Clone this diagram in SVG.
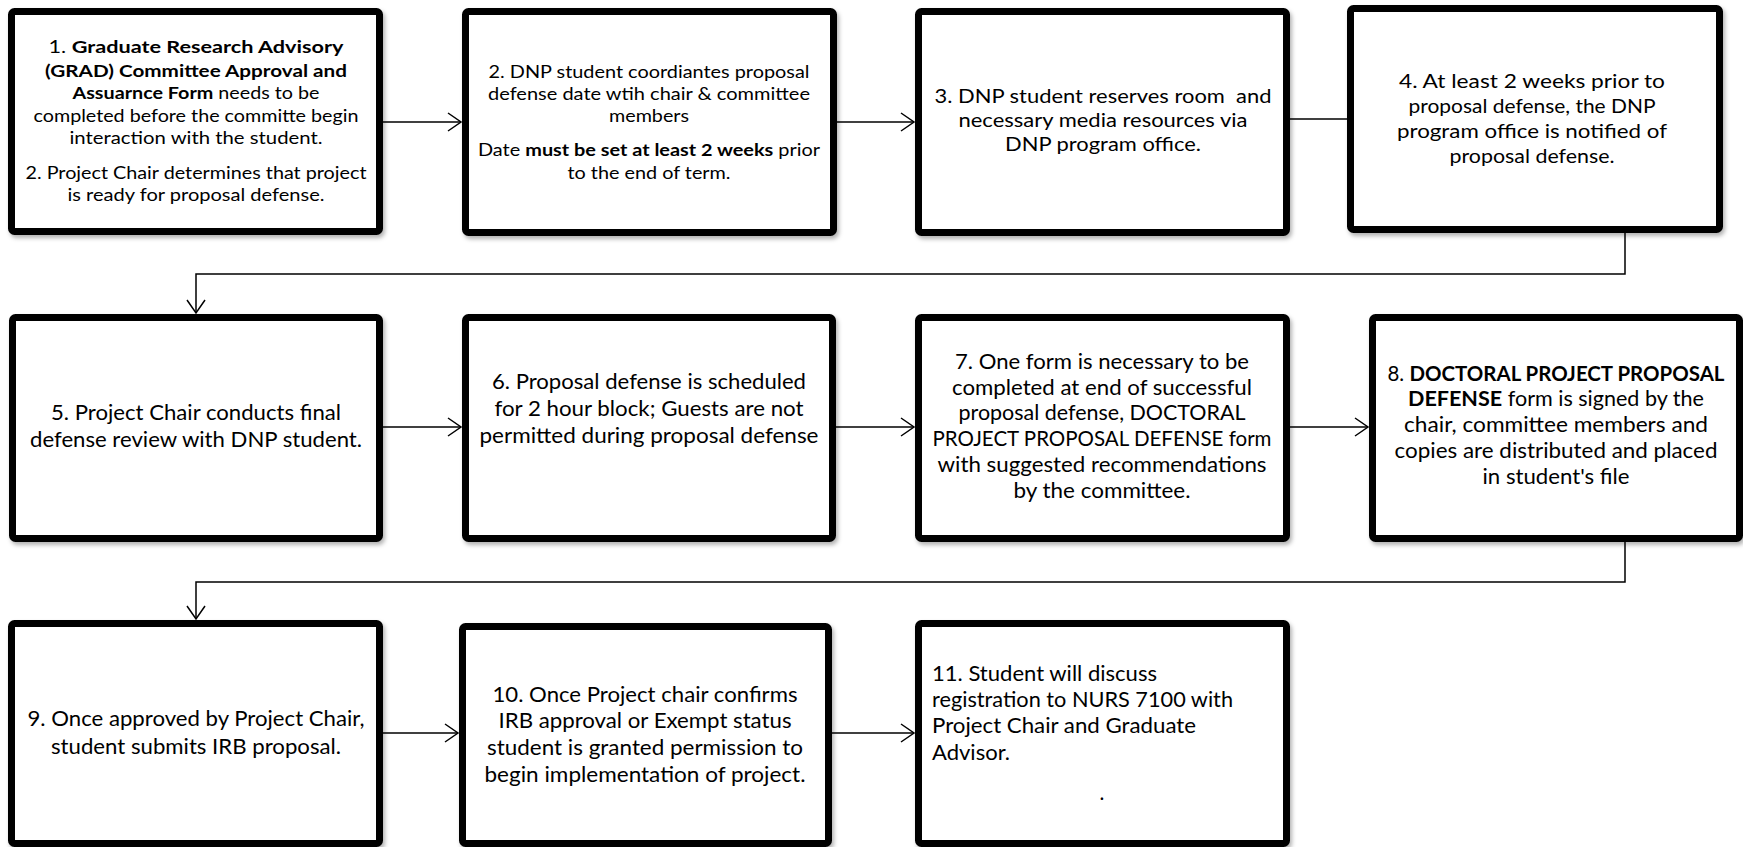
<svg xmlns="http://www.w3.org/2000/svg" width="1743" height="847" viewBox="0 0 1743 847">
<style>
.box{fill:#fff;stroke:#000;stroke-width:7;filter:url(#sh)}
.t{font-family:Lato,"Open Sans",sans-serif;fill:#000;text-anchor:middle}
.s1{font-size:17.5px}
.s2{font-size:19.5px}
.s3{font-size:20.5px}
.l{text-anchor:start}
.b{font-weight:bold}
.c{fill:none;stroke:#000;stroke-width:1.5}
</style>
<defs>
<filter id="sh" x="-5%" y="-5%" width="110%" height="115%">
<feDropShadow dx="2" dy="3" stdDeviation="2" flood-color="#000" flood-opacity="0.3"/>
</filter>
<marker id="ah" markerUnits="userSpaceOnUse" markerWidth="16" markerHeight="22" refX="14" refY="10" orient="auto">
<path d="M1,1 L14,10 L1,19" fill="none" stroke="#000" stroke-width="1.5"/>
</marker>
</defs>
<g id="connectors">
<path class="c" d="M383,122 H461" marker-end="url(#ah)"/>
<path class="c" d="M837,122 H914" marker-end="url(#ah)"/>
<path class="c" d="M1290,119 H1347"/>
<path class="c" d="M1625,233 V274 H196 V313" marker-end="url(#ah)"/>
<path class="c" d="M383,427 H461" marker-end="url(#ah)"/>
<path class="c" d="M836,427 H914" marker-end="url(#ah)"/>
<path class="c" d="M1290,427 H1368" marker-end="url(#ah)"/>
<path class="c" d="M1625,542 V582 H196 V619" marker-end="url(#ah)"/>
<path class="c" d="M383,733 H458" marker-end="url(#ah)"/>
<path class="c" d="M832,733 H914" marker-end="url(#ah)"/>
</g>
<g id="n1">
<rect class="box" x="11.5" y="11.5" width="368" height="220" rx="3"/>
<text class="t s1" x="196" y="53" textLength="295" lengthAdjust="spacingAndGlyphs">1. <tspan class="b">Graduate Research Advisory</tspan></text>
<text class="t s1 b" x="196" y="77" textLength="302" lengthAdjust="spacingAndGlyphs">(GRAD) Committee Approval and</text>
<text class="t s1" x="196" y="99" textLength="247" lengthAdjust="spacingAndGlyphs"><tspan class="b">Assuarnce Form</tspan> needs to be</text>
<text class="t s1" x="196" y="122" textLength="325" lengthAdjust="spacingAndGlyphs">completed before the committe begin</text>
<text class="t s1" x="196" y="144" textLength="253" lengthAdjust="spacingAndGlyphs">interaction with the student.</text>
<text class="t s1" x="196" y="179" textLength="341" lengthAdjust="spacingAndGlyphs">2. Project Chair determines that project</text>
<text class="t s1" x="196" y="201" textLength="257" lengthAdjust="spacingAndGlyphs">is ready for proposal defense.</text>
</g>
<g id="n2">
<rect class="box" x="465.5" y="11.5" width="368" height="221" rx="3"/>
<text class="t s1" x="649" y="78" textLength="321" lengthAdjust="spacingAndGlyphs">2. DNP student coordiantes proposal</text>
<text class="t s1" x="649" y="100" textLength="322" lengthAdjust="spacingAndGlyphs">defense date wtih chair &amp; committee</text>
<text class="t s1" x="649" y="122" textLength="80" lengthAdjust="spacingAndGlyphs">members</text>
<text class="t s1" x="649" y="156" textLength="342" lengthAdjust="spacingAndGlyphs">Date <tspan class="b">must be set at least 2 weeks</tspan> prior</text>
<text class="t s1" x="649" y="179" textLength="163" lengthAdjust="spacingAndGlyphs">to the end of term.</text>
</g>
<g id="n3">
<rect class="box" x="918.5" y="11.5" width="368" height="221" rx="3"/>
<text class="t s2" x="1103" y="103" textLength="337" lengthAdjust="spacingAndGlyphs" xml:space="preserve">3. DNP student reserves room  and</text>
<text class="t s2" x="1103" y="127" textLength="289" lengthAdjust="spacingAndGlyphs">necessary media resources via</text>
<text class="t s2" x="1103" y="151" textLength="196" lengthAdjust="spacingAndGlyphs">DNP program office.</text>
</g>
<g id="n4">
<rect class="box" x="1350.5" y="8.5" width="369" height="221" rx="3"/>
<text class="t s2" x="1532" y="88" textLength="266" lengthAdjust="spacingAndGlyphs">4. At least 2 weeks prior to</text>
<text class="t s2" x="1532" y="113" textLength="247" lengthAdjust="spacingAndGlyphs">proposal defense, the DNP</text>
<text class="t s2" x="1532" y="138" textLength="270" lengthAdjust="spacingAndGlyphs">program office is notified of</text>
<text class="t s2" x="1532" y="163" textLength="165" lengthAdjust="spacingAndGlyphs">proposal defense.</text>
</g>
<g id="n5">
<rect class="box" x="12.5" y="317.5" width="367" height="221" rx="3"/>
<text class="t s3" x="196" y="420" textLength="290" lengthAdjust="spacingAndGlyphs">5. Project Chair conducts final</text>
<text class="t s3" x="196" y="447" textLength="332" lengthAdjust="spacingAndGlyphs">defense review with DNP student.</text>
</g>
<g id="n6">
<rect class="box" x="465.5" y="317.5" width="367" height="221" rx="3"/>
<text class="t s3" x="649" y="389" textLength="314" lengthAdjust="spacingAndGlyphs">6. Proposal defense is scheduled</text>
<text class="t s3" x="649" y="416" textLength="309" lengthAdjust="spacingAndGlyphs">for 2 hour block; Guests are not</text>
<text class="t s3" x="649" y="443" textLength="339" lengthAdjust="spacingAndGlyphs">permitted during proposal defense</text>
</g>
<g id="n7">
<rect class="box" x="918.5" y="317.5" width="368" height="221" rx="3"/>
<text class="t s3" x="1102" y="369" textLength="294" lengthAdjust="spacingAndGlyphs">7. One form is necessary to be</text>
<text class="t s3" x="1102" y="395" textLength="300" lengthAdjust="spacingAndGlyphs">completed at end of successful</text>
<text class="t s3" x="1102" y="420" textLength="287" lengthAdjust="spacingAndGlyphs">proposal defense, DOCTORAL</text>
<text class="t s3" x="1102" y="446" textLength="339" lengthAdjust="spacingAndGlyphs">PROJECT PROPOSAL DEFENSE form</text>
<text class="t s3" x="1102" y="472" textLength="329" lengthAdjust="spacingAndGlyphs">with suggested recommendations</text>
<text class="t s3" x="1102" y="498" textLength="177" lengthAdjust="spacingAndGlyphs">by the committee.</text>
</g>
<g id="n8">
<rect class="box" x="1372.5" y="317.5" width="367" height="221" rx="3"/>
<text class="t s3" x="1556" y="381" textLength="337" lengthAdjust="spacingAndGlyphs">8. <tspan class="b">DOCTORAL PROJECT PROPOSAL</tspan></text>
<text class="t s3" x="1556" y="406" textLength="296" lengthAdjust="spacingAndGlyphs"><tspan class="b">DEFENSE</tspan> form is signed by the</text>
<text class="t s3" x="1556" y="432" textLength="304" lengthAdjust="spacingAndGlyphs">chair, committee members and</text>
<text class="t s3" x="1556" y="458" textLength="323" lengthAdjust="spacingAndGlyphs">copies are distributed and placed</text>
<text class="t s3" x="1556" y="484" textLength="147" lengthAdjust="spacingAndGlyphs">in student's file</text>
</g>
<g id="n9">
<rect class="box" x="11.5" y="623.5" width="368" height="220" rx="3"/>
<text class="t s3" x="196" y="726" textLength="337" lengthAdjust="spacingAndGlyphs">9. Once approved by Project Chair,</text>
<text class="t s3" x="196" y="754" textLength="290" lengthAdjust="spacingAndGlyphs">student submits IRB proposal.</text>
</g>
<g id="n10">
<rect class="box" x="462.5" y="626.5" width="366" height="217" rx="3"/>
<text class="t s3" x="645" y="702" textLength="305" lengthAdjust="spacingAndGlyphs">10. Once Project chair confirms</text>
<text class="t s3" x="645" y="728" textLength="293" lengthAdjust="spacingAndGlyphs">IRB approval or Exempt status</text>
<text class="t s3" x="645" y="755" textLength="316" lengthAdjust="spacingAndGlyphs">student is granted permission to</text>
<text class="t s3" x="645" y="782" textLength="321" lengthAdjust="spacingAndGlyphs">begin implementation of project.</text>
</g>
<g id="n11">
<rect class="box" x="918.5" y="623.5" width="368" height="220" rx="3"/>
<text class="t s3 l" x="932" y="681" textLength="225" lengthAdjust="spacingAndGlyphs">11. Student will discuss</text>
<text class="t s3 l" x="932" y="707" textLength="301" lengthAdjust="spacingAndGlyphs">registration to NURS 7100 with</text>
<text class="t s3 l" x="932" y="733" textLength="264" lengthAdjust="spacingAndGlyphs">Project Chair and Graduate</text>
<text class="t s3 l" x="932" y="760" textLength="78" lengthAdjust="spacingAndGlyphs">Advisor.</text>
<text class="t s3" x="1102" y="800">.</text>
</g>
</svg>
